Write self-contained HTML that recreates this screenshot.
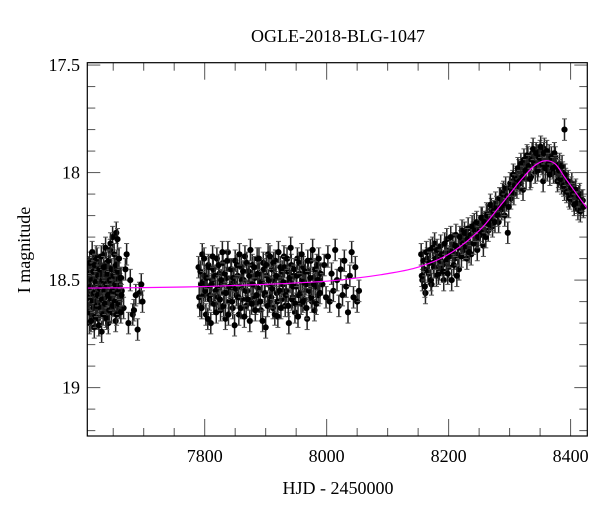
<!DOCTYPE html>
<html><head><meta charset="utf-8"><style>
html,body{margin:0;padding:0;background:#fff;}
svg{display:block;font-family:"Liberation Serif","DejaVu Serif",serif;}
</style></head><body>
<svg id="chart" width="600" height="512" viewBox="0 0 600 512" xmlns="http://www.w3.org/2000/svg">
<text x="338" y="42" font-size="18" text-anchor="middle">OGLE-2018-BLG-1047</text>
<text x="338" y="494" font-size="18" text-anchor="middle">HJD - 2450000</text>
<text x="0" y="0" font-size="18" text-anchor="middle" transform="translate(30,250) rotate(-90)">I magnitude</text>
<g id="ticks"></g>
<g id="points"></g>
<g id="model"></g>
<rect x="87.3" y="62.7" width="500" height="373.3" fill="none" stroke="#000" stroke-width="1.2"/>
</svg>
<script>
const xTicks = [7800, 8000, 8200, 8400];
const yTicks = [17.5, 18, 18.5, 19];
const xTickLabels = ["7800", "8000", "8200", "8400"];
const yTickLabels = ["17.5", "18", "18.5", "19"];
const ERR = 0.05;

const times1 = [7608,7609,7610,7611,7612,7613,7614,7615,7616,7617,7618,7619,7620,7621,7622,7623,7624,7625,7626,7627,7628,7629,7630,7631,7632,7633,7634,7635,7636,7637,7638,7639,7640,7641,7642,7643,7644,7645,7646,7647,7648,7649,7650,7651,7652,7653,7654,7655,7656,7657,7658,7659,7660,7661,7662,7663,7664,7667,7670,7672,7675,7678,7682,7684,7687,7690,7693,7696,7698,7655,7657];
const mags1 = [18.52,18.61,18.44,18.70,18.55,18.48,18.66,18.58,18.41,18.63,18.50,18.72,18.46,18.57,18.39,18.60,18.53,18.68,18.45,18.56,18.62,18.43,18.51,18.74,18.47,18.59,18.38,18.64,18.54,18.49,18.67,18.42,18.58,18.52,18.70,18.44,18.61,18.36,18.55,18.65,18.48,18.30,18.57,18.62,18.45,18.53,18.69,18.50,18.41,18.60,18.56,18.47,18.63,18.52,18.58,18.49,18.55,18.63,18.45,18.38,18.70,18.50,18.66,18.64,18.57,18.73,18.56,18.52,18.60,18.28,18.31];
const times1b = [7608.5,7609.5,7610.5,7611.5,7612.5,7613.5,7614.5,7615.5,7616.5,7617.5,7618.5,7619.5,7620.5,7621.5,7622.5,7623.5,7624.5,7625.5,7626.5,7627.5,7628.5,7629.5,7630.5,7631.5,7632.5,7633.5,7634.5,7635.5,7636.5,7637.5,7638.5,7639.5,7640.5,7641.5,7642.5,7643.5,7644.5,7645.5,7646.5,7647.5,7648.5,7649.5,7650.5,7651.5,7652.5,7653.5,7654.5,7655.5,7656.5,7657.5,7658.5,7659.5,7660.5,7661.5,7662.5,7663.5];
const mags1b = [18.58,18.47,18.65,18.42,18.53,18.69,18.50,18.37,18.60,18.46,18.56,18.43,18.67,18.51,18.62,18.40,18.57,18.48,18.71,18.45,18.54,18.63,18.39,18.59,18.50,18.66,18.44,18.55,18.61,18.35,18.52,18.68,18.47,18.57,18.41,18.64,18.50,18.33,18.59,18.45,18.55,18.62,18.48,18.38,18.60,18.52,18.43,18.66,18.56,18.46,18.61,18.40,18.54,18.49,18.65,18.57];

const times2 = [7790,7792,7794,7796,7798,7800,7802,7804,7806,7808,7810,7812,7814,7816,7818,7820,7822,7824,7826,7828,7830,7832,7834,7836,7838,7840,7842,7844,7846,7848,7850,7852,7854,7856,7858,7860,7862,7864,7866,7868,7870,7872,7874,7876,7878,7880,7882,7884,7886,7888,7890,7892,7894,7896,7898,7900,7902,7904,7906,7908,7910,7912,7914,7916,7918,7920,7922,7924,7926,7928,7930,7932,7934,7936,7938,7940,7942,7944,7946,7948,7950,7952,7954,7956,7958,7960,7962,7964,7966,7968,7970,7972,7974,7976,7978,7980,7982,7984,7986,7988,7990,7993,7996,7999,8002,8005,8008,8011,8014,8017,8020,8023,8026,8029,8032,8035,8038,8041,8044,8047,8050,8053];
const mags2 = [18.44,18.62,18.52,18.38,18.57,18.48,18.66,18.53,18.43,18.59,18.70,18.50,18.45,18.61,18.55,18.40,18.58,18.47,18.64,18.52,18.42,18.56,18.68,18.49,18.37,18.60,18.54,18.45,18.63,18.51,18.41,18.57,18.48,18.66,18.53,18.44,18.59,18.50,18.39,18.62,18.55,18.46,18.69,18.52,18.43,18.58,18.49,18.61,18.40,18.54,18.47,18.64,18.51,18.42,18.57,18.72,18.48,18.38,18.60,18.53,18.45,18.63,18.50,18.41,18.56,18.67,18.49,18.44,18.59,18.52,18.39,18.62,18.55,18.46,18.70,18.51,18.43,18.58,18.48,18.65,18.53,18.40,18.57,18.47,18.61,18.50,18.44,18.59,18.52,18.68,18.46,18.55,18.41,18.60,18.49,18.64,18.53,18.43,18.57,18.50,18.47,18.52,18.43,18.58,18.39,18.60,18.47,18.55,18.36,18.50,18.62,18.45,18.57,18.41,18.53,18.65,18.48,18.37,18.58,18.44,18.60,18.55];
const times2b = [7791,7793,7795,7797,7799,7801,7803,7805,7807,7809,7811,7813,7815,7817,7819,7821,7823,7825,7827,7829,7831,7833,7835,7837,7839,7841,7843,7845,7847,7849,7851,7853,7855,7857,7859,7861,7863,7865,7867,7869,7871,7873,7875,7877,7879,7881,7883,7885,7887,7889,7891,7893,7895,7897,7899,7901,7903,7905,7907,7909,7911,7913,7915,7917,7919,7921,7923,7925,7927,7929,7931,7933,7935,7937,7939,7941,7943,7945,7947,7949,7951,7953,7955,7957,7959,7961,7963,7965,7967,7969,7971,7973,7975,7977,7979,7981,7983,7985,7987,7989];
const mags2b = [18.58,18.46,18.63,18.51,18.40,18.55,18.49,18.68,18.44,18.57,18.52,18.39,18.61,18.48,18.65,18.54,18.43,18.59,18.50,18.37,18.62,18.47,18.56,18.41,18.66,18.53,18.45,18.60,18.49,18.71,18.54,18.43,18.58,18.38,18.63,18.50,18.46,18.67,18.55,18.42,18.59,18.48,18.36,18.61,18.52,18.44,18.64,18.57,18.47,18.40,18.60,18.51,18.69,18.45,18.56,18.43,18.62,18.50,18.39,18.58,18.54,18.42,18.66,18.48,18.60,18.37,18.55,18.63,18.46,18.51,18.44,18.57,18.40,18.62,18.49,18.35,18.59,18.53,18.45,18.61,18.48,18.67,18.42,18.56,18.38,18.60,18.51,18.46,18.63,18.41,18.55,18.49,18.58,18.36,18.52,18.45,18.61,18.50,18.40,18.56];

const times3 = [8155,8157,8160,8162,8165,8167,8170,8172,8175,8177,8180,8182,8185,8187,8190,8192,8195,8197,8200,8202,8205,8207,8210,8212,8215,8217,8220,8222,8225,8227,8230,8232,8235,8237,8240,8242,8245,8247,8250,8252,8255,8257,8260,8262,8265,8267,8270,8272,8275,8277,8280,8282,8285,8287,8290,8292,8295,8297,8300,8302,8305,8307,8310,8312,8315,8317,8320,8322,8325,8327,8330,8332,8335,8337,8340,8342,8345,8347,8350,8352,8355,8357,8360,8362,8365,8367,8370,8372,8375,8377,8380,8382,8385,8387,8390,8392,8395,8397,8400,8402,8405,8407,8410,8412,8415,8417,8420,8390];
const mags3 = [18.38,18.50,18.45,18.56,18.40,18.47,18.36,18.52,18.42,18.33,18.48,18.39,18.45,18.34,18.43,18.50,18.37,18.31,18.44,18.36,18.50,18.33,18.40,18.29,18.38,18.45,18.32,18.27,18.36,18.30,18.40,18.26,18.33,18.38,18.28,18.24,18.31,18.36,18.25,18.29,18.21,18.34,18.24,18.19,18.27,18.22,18.17,18.25,18.20,18.14,18.18,18.23,18.12,18.17,18.09,18.20,18.13,18.28,18.07,18.12,18.04,18.10,18.02,18.07,17.99,18.05,18.00,18.08,17.96,18.03,17.93,17.98,18.02,17.91,17.95,18.00,17.92,17.97,17.90,17.95,18.04,17.89,17.94,17.99,17.92,17.97,17.95,18.00,17.93,17.98,18.02,17.96,18.05,18.00,18.08,18.03,18.06,18.11,18.10,18.05,18.13,18.09,18.12,18.17,18.10,18.15,18.13,17.80];
const times3b = [8156,8158.5,8161,8163.5,8166,8168.5,8171,8173.5,8176,8178.5,8181,8183.5,8186,8188.5,8191,8193.5,8196,8198.5,8201,8203.5,8206,8208.5,8211,8213.5,8216,8218.5,8221,8223.5,8226,8228.5,8231,8233.5,8236,8238.5,8241,8243.5,8246,8248.5,8251,8253.5,8256,8258.5,8261,8263.5,8266,8268.5,8271,8273.5,8276,8278.5,8281,8283.5,8286,8288.5,8291,8293.5,8296,8298.5,8301,8303.5,8306,8308.5,8311,8313.5,8316,8318.5,8321,8323.5,8326,8328.5,8331,8333.5,8336,8338.5,8341,8343.5,8346,8348.5,8351,8353.5,8356,8358.5,8361,8363.5,8366,8368.5,8371,8373.5,8376,8378.5,8381,8383.5,8386,8388.5,8391,8393.5,8396,8398.5,8401,8403.5,8406,8408.5,8411,8413.5,8416,8418.5,8421];
const mags3b = [18.48,18.41,18.53,18.37,18.46,18.42,18.50,18.35,18.44,18.40,18.36,18.47,18.41,18.38,18.46,18.33,18.41,18.47,18.39,18.30,18.37,18.43,18.34,18.48,18.35,18.30,18.39,18.33,18.28,18.35,18.31,18.37,18.29,18.25,18.33,18.27,18.23,18.30,18.27,18.21,18.28,18.23,18.30,18.20,18.24,18.15,18.22,18.18,18.23,18.16,18.20,18.12,18.16,18.10,18.15,18.07,18.11,18.16,18.05,18.09,18.01,18.06,18.03,17.98,18.04,17.96,18.02,17.94,17.99,17.92,17.97,18.03,17.94,17.89,17.96,17.91,17.99,17.93,17.88,17.96,17.91,17.98,17.90,17.96,18.01,17.93,17.98,17.91,17.97,18.04,17.99,18.03,17.97,18.06,18.01,18.09,18.04,18.12,18.07,18.10,18.15,18.08,18.14,18.11,18.18,18.13,18.16];

const modelTimes = [7607,7700,7800,7900,8000,8050,8100,8150,8200,8250,8280,8300,8320,8340,8358,8375,8390,8410,8428];
const modelMags = [18.537,18.535,18.53,18.52,18.505,18.49,18.47,18.44,18.38,18.27,18.17,18.10,18.03,17.97,17.945,17.96,18.02,18.10,18.17];

const L = 87.3, R = 587.3, T = 62.7, B = 436;
const X0 = 7607.5, X1 = 8427.4, Y0 = 17.489, Y1 = 19.225;
function xs(t) { return L + (t - X0) / (X1 - X0) * (R - L); }
function ys(m) { return T + (m - Y0) / (Y1 - Y0) * (B - T); }
const NS = "http://www.w3.org/2000/svg";
function mk(tag, attrs, parent) {
  const e = document.createElementNS(NS, tag);
  for (const k in attrs) e.setAttribute(k, attrs[k]);
  parent.appendChild(e);
  return e;
}
const tg = document.getElementById('ticks');
for (let v = 7650; v <= 8400; v += 50) {
  const x = xs(v);
  const major = v % 200 === 0;
  const len = major ? 17 : 8;
  const t1 = mk('line', {x1: x, x2: x, y1: B, y2: B - len, stroke: '#555', 'stroke-width': 1}, tg);
  
  
  const t2 = mk('line', {x1: x, x2: x, y1: T, y2: T + len, stroke: '#555', 'stroke-width': 1}, tg);
  
  
}
xTicks.forEach((v, i) => {
  const lb = mk('text', {x: xs(v), y: 462, 'font-size': 18, 'text-anchor': 'middle'}, tg);
  lb.textContent = xTickLabels[i];
  
  
});
for (let k = 0; k <= 17; k++) {
  const m = 17.5 + k * 0.1;
  if (m > Y1) break;
  const y = ys(m);
  const major = k % 5 === 0;
  const len = major ? 13 : 8;
  const a = mk('line', {x1: L, x2: L + len, y1: y, y2: y, stroke: '#555', 'stroke-width': 1}, tg);
  
  
  const b = mk('line', {x1: R, x2: R - len, y1: y, y2: y, stroke: '#555', 'stroke-width': 1}, tg);
  
  
}
yTicks.forEach((v, i) => {
  const lb = mk('text', {x: 80, y: ys(v) + 6, 'font-size': 18, 'text-anchor': 'end'}, tg);
  lb.textContent = yTickLabels[i];
  
  
});

const pg = document.getElementById('points');
function drawSeason(times, mags) {
  const n = Math.min(times.length, mags.length);
  for (let i = 0; i < n; i++) {
    const x = xs(times[i]), y = ys(mags[i]);
    const yt = ys(mags[i] - ERR), yb = ys(mags[i] + ERR);
    const g = mk('g', {}, pg);
    
    
    mk('line', {x1: x, x2: x, y1: yt, y2: yb, stroke: '#222', 'stroke-width': 1.5}, g);
    mk('line', {x1: x - 2.5, x2: x + 2.5, y1: yt, y2: yt, stroke: '#555', 'stroke-width': 1}, g);
    mk('line', {x1: x - 2.5, x2: x + 2.5, y1: yb, y2: yb, stroke: '#555', 'stroke-width': 1}, g);
    mk('circle', {cx: x, cy: y, r: 3.1, fill: '#000'}, g);
  }
}
drawSeason(times1, mags1);
drawSeason(times1b, mags1b);
drawSeason(times2, mags2);
drawSeason(times2b, mags2b);
drawSeason(times3, mags3);
drawSeason(times3b, mags3b);

const mg = document.getElementById('model');
const pts = modelTimes.map((t, i) => [xs(t), ys(modelMags[i])]);
let d = 'M' + pts[0][0] + ',' + pts[0][1];
for (let i = 0; i < pts.length - 1; i++) {
  const p0 = pts[Math.max(0, i - 1)], p1 = pts[i], p2 = pts[i + 1], p3 = pts[Math.min(pts.length - 1, i + 2)];
  const c1x = p1[0] + (p2[0] - p0[0]) / 6, c1y = p1[1] + (p2[1] - p0[1]) / 6;
  const c2x = p2[0] - (p3[0] - p1[0]) / 6, c2y = p2[1] - (p3[1] - p1[1]) / 6;
  d += ' C' + c1x + ',' + c1y + ' ' + c2x + ',' + c2y + ' ' + p2[0] + ',' + p2[1];
}
const path = mk('path', {d: d, fill: 'none', stroke: '#ff00ff', 'stroke-width': 1.2}, mg);


const clip = mk('clipPath', {id: 'pc'}, document.getElementById('chart'));
mk('rect', {x: L, y: T, width: R - L, height: B - T}, clip);
mg.setAttribute('clip-path', 'url(#pc)');
pg.setAttribute('clip-path', 'url(#pc)');
</script>
</body></html>
